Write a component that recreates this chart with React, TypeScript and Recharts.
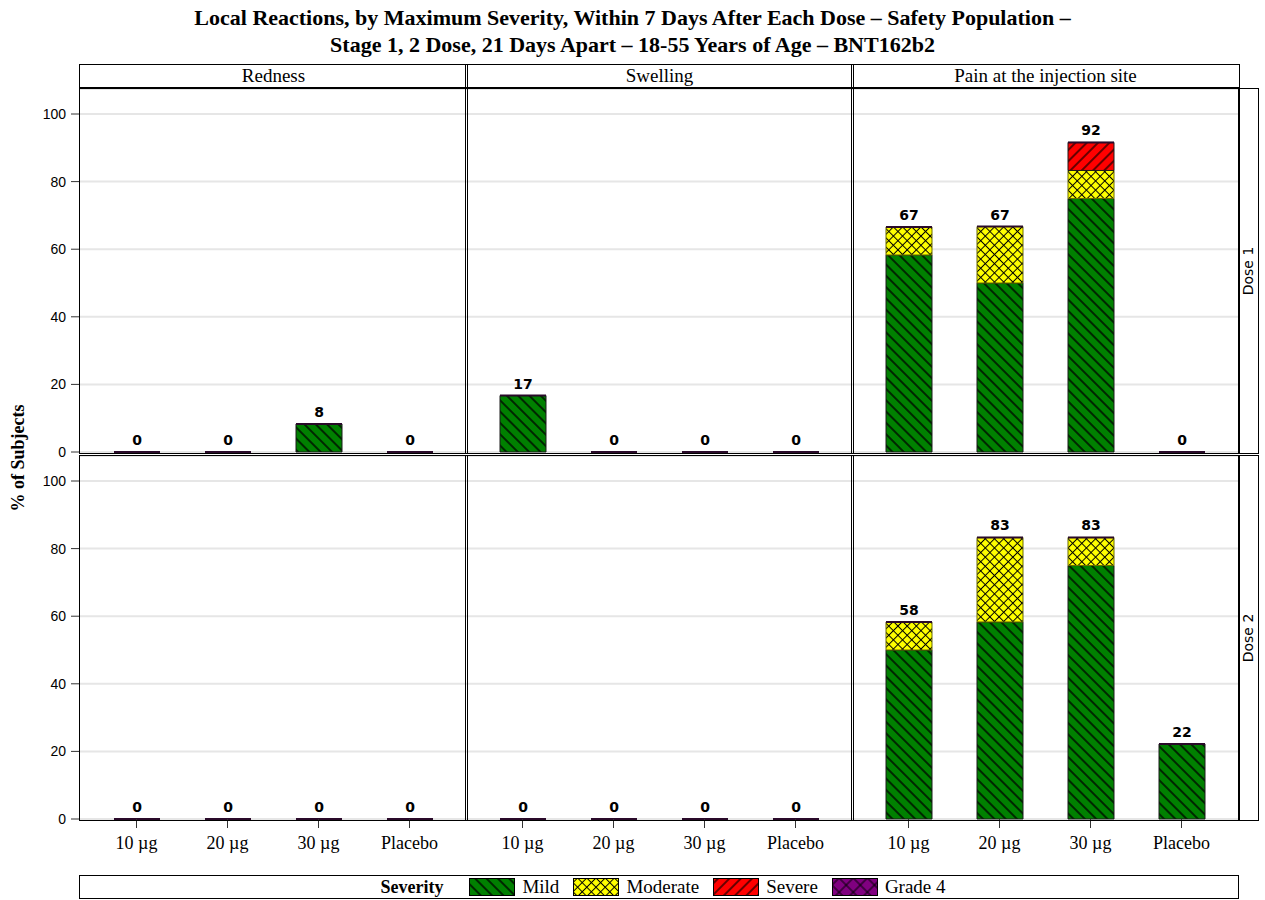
import { BarChart, Bar, XAxis, YAxis, CartesianGrid, LabelList } from 'recharts';

const categories = ['10 µg', '20 µg', '30 µg', 'Placebo'];
const reactions = ['Redness', 'Swelling', 'Pain at the injection site'];
const doses = ['Dose 1', 'Dose 2'];
const yTicks = [0, 20, 40, 60, 80, 100];

const none = [0, 0, 0, 0];
// dose 1
const rednessD1Mild = [0, 0, 8.3, 0];
const swellingD1Mild = [16.7, 0, 0, 0];
const painD1Mild = [58.3, 50, 75, 0];
const painD1Moderate = [8.3, 16.7, 8.3, 0];
const painD1Severe = [0, 0, 8.3, 0];
// dose 2
const painD2Mild = [50, 58.3, 75, 22.2];
const painD2Moderate = [8.3, 25, 8.3, 0];

const panels = [
  [
    { mild: rednessD1Mild, moderate: none, severe: none, grade4: none },
    { mild: swellingD1Mild, moderate: none, severe: none, grade4: none },
    { mild: painD1Mild, moderate: painD1Moderate, severe: painD1Severe, grade4: none },
  ],
  [
    { mild: none, moderate: none, severe: none, grade4: none },
    { mild: none, moderate: none, severe: none, grade4: none },
    { mild: painD2Mild, moderate: painD2Moderate, severe: none, grade4: none },
  ],
];

const colX = [80, 466, 852];
const rowY = [89, 456];
const PW = 386;
const PH = 363;
const Y_AXIS_W = 60;
const X_AXIS_H = 45;

const serif = '"Liberation Serif", "Times New Roman", serif';
const sans = '"DejaVu Sans", Verdana, sans-serif';

function Patterns() {
  return (
    <svg width={0} height={0} style={{ position: 'absolute' }}>
      <defs>
        <pattern id="pMild" patternUnits="userSpaceOnUse" width={8} height={8} patternTransform="rotate(45)">
          <rect width={8} height={8} fill="#008000" />
          <line x1={0} y1={4} x2={8} y2={4} stroke="#000" strokeWidth={1.4} />
        </pattern>
        <pattern id="pModerate" patternUnits="userSpaceOnUse" width={6.5} height={6.5} patternTransform="rotate(45)">
          <rect width={6.5} height={6.5} fill="#ffff00" />
          <line x1={0} y1={3.25} x2={6.5} y2={3.25} stroke="#000" strokeWidth={1} />
          <line x1={3.25} y1={0} x2={3.25} y2={6.5} stroke="#000" strokeWidth={1} />
        </pattern>
        <pattern id="pSevere" patternUnits="userSpaceOnUse" width={8} height={8} patternTransform="rotate(-45)">
          <rect width={8} height={8} fill="#ff0000" />
          <line x1={0} y1={4} x2={8} y2={4} stroke="#000" strokeWidth={1.2} />
        </pattern>
        <pattern id="pGrade4" patternUnits="userSpaceOnUse" width={10} height={10} patternTransform="rotate(45)">
          <rect width={10} height={10} fill="#800080" />
          <line x1={0} y1={5} x2={10} y2={5} stroke="#000" strokeWidth={1} />
          <line x1={5} y1={0} x2={5} y2={10} stroke="#000" strokeWidth={1} />
        </pattern>
      </defs>
    </svg>
  );
}

const TopShape = (props: any) => {
  const { x, y, width, height } = props;
  return (
    <g>
      {height > 0 && <rect x={x} y={y} width={width} height={height} fill="url(#pGrade4)" stroke="#000" />}
      <line x1={x} x2={x + width} y1={y} y2={y} stroke="#2a0a2a" strokeWidth={2} />
    </g>
  );
};

const TotalLabel = (props: any) => {
  const { x, y, width, value } = props;
  return (
    <text x={x + width / 2} y={y - 7} textAnchor="middle" fontFamily={sans} fontWeight="bold" fontSize={14} fill="#000">
      {value}
    </text>
  );
};

function Panel({ r, c }: { r: number; c: number }) {
  const p = panels[r][c];
  const data = categories.map((cat, i) => ({
    cat,
    mild: p.mild[i],
    moderate: p.moderate[i],
    severe: p.severe[i],
    grade4: p.grade4[i],
    total: Math.round(p.mild[i] + p.moderate[i] + p.severe[i] + p.grade4[i]),
  }));
  const yw = c === 0 ? Y_AXIS_W : 0;
  const xh = r === 1 ? X_AXIS_H : 12;
  return (
    <div style={{ position: 'absolute', left: colX[c] - yw, top: rowY[r] }}>
      <BarChart
        width={PW + yw}
        height={PH + xh}
        data={data}
        margin={{ top: 0, right: 0, bottom: r === 1 ? 0 : 12, left: 0 }}
      >
        <CartesianGrid vertical={false} stroke="#e6e6e6" strokeWidth={2} />
        <XAxis
          dataKey="cat"
          hide={r === 0}
          height={X_AXIS_H}
          padding={{ left: 11, right: 11 }}
          axisLine={false}
          tickSize={9}
          tickMargin={8}
          tickLine={{ stroke: '#333' }}
          tick={{ fill: '#000', fontFamily: serif, fontSize: 18 }}
        />
        <YAxis
          hide={c !== 0}
          width={Y_AXIS_W}
          domain={[0, 107.4]}
          ticks={yTicks}
          axisLine={false}
          tickSize={9}
          tickMargin={5}
          tickLine={{ stroke: '#333' }}
          tick={{ fill: '#000', fontFamily: '"Liberation Sans", Arial, sans-serif', fontSize: 14 }}
        />
        <Bar dataKey="mild" stackId="a" barSize={46} fill="url(#pMild)" stroke="#1a1a1a" isAnimationActive={false} />
        <Bar dataKey="moderate" stackId="a" barSize={46} fill="url(#pModerate)" stroke="#6b6b00" isAnimationActive={false} />
        <Bar dataKey="severe" stackId="a" barSize={46} fill="url(#pSevere)" stroke="#1a1a1a" isAnimationActive={false} />
        <Bar dataKey="grade4" stackId="a" barSize={46} fill="url(#pGrade4)" shape={TopShape} isAnimationActive={false}>
          <LabelList dataKey="total" content={TotalLabel} />
        </Bar>
      </BarChart>
    </div>
  );
}

const legendItems = [
  { name: 'Mild', fill: 'url(#pMild)' },
  { name: 'Moderate', fill: 'url(#pModerate)' },
  { name: 'Severe', fill: 'url(#pSevere)' },
  { name: 'Grade 4', fill: 'url(#pGrade4)' },
];

export default function App() {
  const boxes: any[] = [];
  rowY.forEach((y, r) => {
    colX.forEach((x, c) => {
      boxes.push(
        <div
          key={`b${r}${c}`}
          style={{ position: 'absolute', left: x - 1, top: y - 1, width: PW + 1, height: PH + 1, border: '1px solid #000', pointerEvents: 'none' }}
        />
      );
    });
    boxes.push(
      <div
        key={`s${r}`}
        style={{
          position: 'absolute', left: 1238, top: y - 1, width: 19, height: PH + 1, border: '1px solid #000',
          display: 'flex', alignItems: 'center', justifyContent: 'center',
        }}
      >
        <div style={{ transform: 'rotate(-90deg)', whiteSpace: 'nowrap', fontFamily: sans, fontSize: 14 }}>{doses[r]}</div>
      </div>
    );
  });

  return (
    <div style={{ position: 'absolute', left: 0, top: 0, width: 1265, height: 900, background: '#fff', fontFamily: serif }}>
      <Patterns />
      <div style={{ position: 'absolute', left: 0, width: 1265, top: 4, textAlign: 'center', fontWeight: 'bold', fontSize: 22, lineHeight: '27px' }}>
        <div>Local Reactions, by Maximum Severity, Within 7 Days After Each Dose – Safety Population –</div>
        <div>Stage 1, 2 Dose, 21 Days Apart – 18-55 Years of Age – BNT162b2</div>
      </div>
      {reactions.map((name, c) => (
        <div
          key={name}
          style={{
            position: 'absolute', left: colX[c] - 1, top: 64, width: PW + 1, height: 22, border: '1px solid #000',
            textAlign: 'center', fontSize: 19, lineHeight: '22px',
          }}
        >
          {name}
        </div>
      ))}
      {[0, 1].map((r) => [0, 1, 2].map((c) => <Panel key={`p${r}${c}`} r={r} c={c} />))}
      {boxes}
      <div
        style={{
          position: 'absolute', left: 18, top: 458, transform: 'translate(-50%, -50%) rotate(-90deg)',
          whiteSpace: 'nowrap', fontWeight: 'bold', fontSize: 18,
        }}
      >
        % of Subjects
      </div>
      <div
        style={{
          position: 'absolute', left: 79, top: 875, width: 1158, height: 22, border: '1px solid #000',
          display: 'flex', alignItems: 'center', justifyContent: 'center', fontSize: 19,
        }}
      >
        <span style={{ fontWeight: 'bold', fontSize: 18, marginRight: 26, marginLeft: 8 }}>Severity</span>
        {legendItems.map((it, i) => (
          <span key={it.name} style={{ display: 'flex', alignItems: 'center', marginRight: i < legendItems.length - 1 ? 14 : 0 }}>
            <svg width={46} height={18} style={{ marginRight: 7 }}>
              <rect x={0.5} y={0.5} width={45} height={17} fill={it.fill} stroke="#000" />
            </svg>
            {it.name}
          </span>
        ))}
      </div>
    </div>
  );
}
